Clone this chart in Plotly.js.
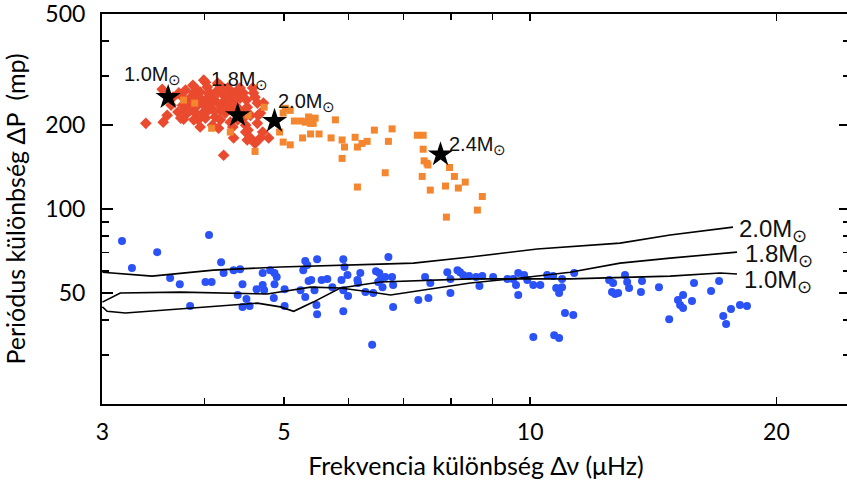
<!DOCTYPE html>
<html>
<head>
<meta charset="utf-8">
<script src="https://cdn.plot.ly/plotly-3.0.1.min.js"></script>
<style>
html,body{margin:0;padding:0;overflow:hidden;background:#fff;}
#chart{width:850px;height:481px;}
</style>
</head>
<body>
<div id="chart"></div>
<script>
// Blue circles
const blueX = [3.17,3.26,3.50,4.05,3.63,3.73,3.84,4.01,4.08,4.19,4.22,4.34,4.42,4.39,4.45,4.50,4.45,4.54,4.71,4.63,4.71,4.73,4.81,4.87,4.90,4.87,4.86,5.01,5.01,5.24,5.28,5.31,5.34,5.36,5.40,5.31,5.45,5.49,5.48,5.49,5.56,5.65,5.73,5.91,5.93,5.88,5.98,5.91,5.99,5.91,6.15,6.20,6.16,6.29,6.43,6.48,6.41,6.52,6.54,6.65,6.78,6.56,6.60,6.80,6.71,6.80,7.30,7.51,7.44,7.55,7.92,7.99,7.99,8.15,8.21,8.28,8.42,8.59,8.74,8.67,9.01,9.38,9.53,9.67,9.83,9.61,9.67,9.92,10.09,10.29,10.09,10.49,10.67,10.94,10.94,10.76,10.85,11.32,11.03,11.29,10.70,10.85,12.49,12.63,12.59,12.70,12.81,13.06,13.14,13.21,13.70,13.66,14.37,15.16,15.38,15.77,15.25,15.38,14.79,15.86,16.64,17.02,17.22,17.36,17.60,18.05,18.41];
const blueY = [76.8,61.5,70.1,80.7,56.6,53.8,44.9,54.8,54.8,64.5,59.0,60.4,60.9,49.2,53.8,47.6,44.6,44.9,59.0,51.6,53.4,51.2,60.4,59.0,57.1,53.8,48.0,51.6,44.9,51.2,60.4,65.1,63.0,55.2,55.7,48.4,51.2,66.1,45.3,42.0,55.7,56.2,52.5,66.1,62.0,55.7,58.0,51.2,48.8,43.0,55.7,59.0,54.3,50.4,50.0,59.9,32.6,54.8,59.0,57.1,57.1,55.7,52.5,53.4,67.3,44.6,47.2,48.0,57.1,54.3,59.4,56.2,50.0,60.4,59.4,58.0,57.5,57.1,57.5,53.0,57.1,56.2,56.2,59.0,58.0,53.4,49.2,55.7,53.4,53.4,34.8,58.0,57.5,56.2,52.5,52.1,50.0,59.0,42.4,41.7,35.3,34.5,55.7,54.3,50.4,49.6,50.0,58.0,54.8,52.1,55.2,50.4,52.5,47.2,49.2,46.8,45.3,44.2,40.3,54.3,50.8,55.2,41.4,38.7,43.8,45.3,44.9];

// Red diamonds
const redX = [3.39,3.55,3.56,3.60,3.66,3.64,3.72,3.76,3.71,3.79,3.81,3.77,3.84,3.88,3.92,3.90,3.95,3.95,3.99,3.98,3.93,4.01,4.03,4.06,4.10,4.04,4.12,4.09,4.15,4.18,4.22,4.21,4.18,4.24,4.16,4.27,4.33,4.28,4.34,4.30,4.33,4.22,4.39,4.42,4.46,4.51,4.49,4.52,4.34,4.51,4.58,4.61,4.64,4.65,4.64,4.71,4.68,4.72,4.79,
3.76,3.79,3.74,3.87,3.92,3.88,3.88,3.95,3.99,4.09,4.15,4.15,4.10,4.30,4.28,4.34,4.42,4.49,4.55,4.59,4.68,4.61,
3.82,4.01,4.12,4.24,4.36,4.06,3.90,4.01,4.18,4.42,4.55,4.46,4.39,4.04,4.24,4.36,4.50,3.84];
const redY = [203,269,205,217,252,236,261,236,223,267,221,210,250,261,242,232,263,250,236,221,209,285,274,261,246,226,214,200,267,278,256,240,226,221,195,272,261,240,246,205,197,156,267,250,261,232,200,192,180,177,272,252,240,217,203,189,180,240,180,
252,226,212,278,267,252,209,197,290,252,283,240,226,252,232,223,272,189,180,261,221,172,
236,246,256,246,236,240,221,212,209,226,217,212,209,261,263,256,246,226];

// Orange squares
const orangeX = [3.77,3.89,4.08,4.30,4.52,4.73,4.61,4.94,4.99,5.09,4.99,5.02,5.09,5.15,5.27,5.25,5.31,5.36,5.39,5.46,5.43,5.39,5.52,5.71,5.78,5.89,5.93,5.89,6.11,6.15,6.23,6.32,6.45,6.71,6.78,6.65,6.15,7.28,7.40,7.40,7.42,7.48,7.50,7.38,7.55,7.88,7.97,8.08,8.17,8.33,8.74,8.62,7.90];
const orangeY = [246,240,195,189,217,232,161,189,174,170,221,230,226,207,180,207,205,214,203,212,203,186,186,180,209,177,167,152,181,167,172,175,192,175,194,135,120,184,184,164,149,146,144,131,117,121,141,131,119,125,111,99.2,93.6];

// Model stars
const starX = [3.61,4.39,4.87,7.77];
const starY = [252,217,207,157];
const starNames = ['1.0M','1.8M','2.0M','2.4M'];

// Model tracks
const track20X = [3.0,3.45,4.10,4.95,6.56,7.20,8.45,10.20,12.88,14.83,17.70];
const track20Y = [59.4,57.5,60.4,62.0,63.5,64.0,67.3,71.9,75.5,80.7,86.2];
const track18X = [3.0,3.155,3.74,4.51,4.77,5.39,5.86,6.38,6.75,8.45,9.72,11.19,12.88,14.83,17.90];
const track18Y = [46.4,50.0,50.4,49.6,49.6,52.5,52.1,50.4,49.2,54.3,56.6,59.4,64.0,66.7,70.1];
const track10X = [3.0,3.04,3.20,3.74,4.22,4.64,4.95,5.14,5.43,5.86,6.56,8.45,11.19,14.83,17.07,17.90];
const track10Y = [44.6,43.0,42.4,43.8,44.9,46.0,44.6,43.0,46.4,52.1,54.8,56.2,56.2,57.5,59.0,58.5];
const trackNames = ['2.0M','1.8M','1.0M'];

// Tick labels
const xTickVals = [3,5,10,20];
const xTickText = ['3','5','10','20'];
const xMinor = [4,6,7,8,9];
const yTickVals = [50,100,200,500];
const yTickText = ['50','100','200','500'];
const yMinor = [20,30,40,60,70,80,90,300,400];

const lineStyle = {color:'#000', width:1.6};
const traces = [
  {x:blueX, y:blueY, type:'scatter', mode:'markers', marker:{symbol:'circle', size:8, color:'#2B52F6'}, hoverinfo:'skip'},
  {x:track20X, y:track20Y, type:'scatter', mode:'lines', line:lineStyle, hoverinfo:'skip'},
  {x:track18X, y:track18Y, type:'scatter', mode:'lines', line:lineStyle, hoverinfo:'skip'},
  {x:track10X, y:track10Y, type:'scatter', mode:'lines', line:lineStyle, hoverinfo:'skip'},
  {x:redX, y:redY, type:'scatter', mode:'markers', marker:{symbol:'diamond', size:9, color:'#EA4A2E'}, hoverinfo:'skip'},
  {x:orangeX, y:orangeY, type:'scatter', mode:'markers', marker:{symbol:'square', size:7, color:'#F4862F'}, hoverinfo:'skip'},
  {x:starX, y:starY, type:'scatter', mode:'markers', marker:{symbol:'star', size:19, color:'#000'}, hoverinfo:'skip'}
];

function sunLabel(name, subSize){
  return name + "<sub><span style='font-size:" + subSize + "px'>⊙</span></sub>";
}
const starLabelPos = [[0.027,0.843],[0.143,0.830],[0.233,0.774],[0.461,0.664]];
const trackLabelPos = [[0.849,0.446],[0.857,0.381],[0.856,0.315]];
const annotations = [];
starNames.forEach((t,i)=>annotations.push({text:sunLabel(t,15), xref:'paper', yref:'paper', x:starLabelPos[i][0], y:starLabelPos[i][1], xanchor:'left', yanchor:'middle', showarrow:false, font:{family:'Liberation Sans, Arial, sans-serif', size:20, color:'#111'}}));
trackNames.forEach((t,i)=>annotations.push({text:sunLabel(t,18), xref:'paper', yref:'paper', x:trackLabelPos[i][0], y:trackLabelPos[i][1], xanchor:'left', yanchor:'middle', showarrow:false, font:{family:'Liberation Sans, Arial, sans-serif', size:24, color:'#111'}}));

const axisFont = {family:'Lato, Open Sans, sans-serif', size:23, color:'#000'};
const layout = {
  width:850, height:481,
  margin:{l:102, r:0, t:14, b:77},
  paper_bgcolor:'#fff', plot_bgcolor:'#fff',
  showlegend:false,
  font:{family:'Lato, sans-serif'},
  xaxis:{
    type:'log', range:[Math.log10(3)-0.0005, Math.log10(3)+748/818.5],
    tickmode:'array', tickvals:xTickVals, ticktext:xTickText,
    ticks:'inside', ticklen:7, tickwidth:1.5, tickcolor:'#000',
    minor:{tickmode:'array', tickvals:xMinor, ticks:'inside', ticklen:6, tickwidth:1.5, tickcolor:'#000', showgrid:false},
    showline:true, linecolor:'#000', linewidth:2, mirror:'ticks',
    showgrid:false, zeroline:false, ticklabeloverflow:'allow',
    tickfont:axisFont, ticklabelstandoff:6,
    title:{text:'Frekvencia különbség Δν (μHz)', font:{family:'Lato, sans-serif', size:25, color:'#000'}, standoff:14}
  },
  yaxis:{
    type:'log', range:[Math.log10(20), Math.log10(500)+0.0008],
    tickmode:'array', tickvals:yTickVals, ticktext:yTickText,
    ticks:'inside', ticklen:11, tickwidth:1.5, tickcolor:'#000',
    minor:{tickmode:'array', tickvals:yMinor, ticks:'inside', ticklen:7, tickwidth:1.5, tickcolor:'#000', showgrid:false},
    showline:true, linecolor:'#000', linewidth:2, mirror:'ticks',
    showgrid:false, zeroline:false, ticklabeloverflow:'allow',
    tickfont:axisFont, ticklabelstandoff:10,
    title:{text:'Periódus különbség ΔP  (mp)', font:{family:'Lato, sans-serif', size:25, color:'#000'}, standoff:14}
  },
  annotations:annotations
};
Plotly.newPlot('chart', traces, layout, {displayModeBar:false, staticPlot:true});
</script>
</body>
</html>
